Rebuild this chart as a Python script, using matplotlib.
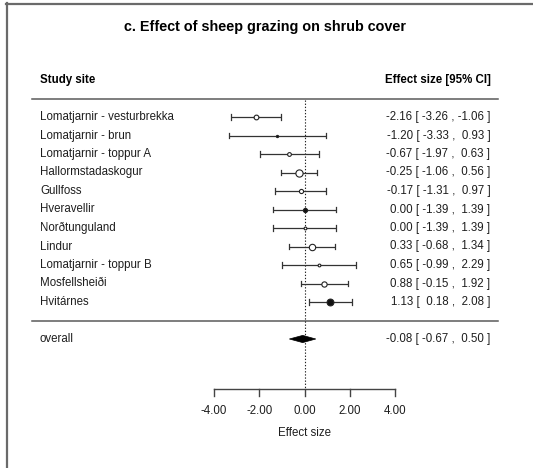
import matplotlib
matplotlib.use("Agg")
import matplotlib.pyplot as plt
from matplotlib.lines import Line2D
from matplotlib.patches import Polygon

# ---------------- data ----------------
sites = ["Lomatjarnir - vesturbrekka", "Lomatjarnir - brun", "Lomatjarnir - toppur A",
         "Hallormstadaskogur", "Gullfoss", "Hveravellir", "Norðtunguland", "Lindur",
         "Lomatjarnir - toppur B", "Mosfellsheiði", "Hvitárnes"]
estimates = [-2.16, -1.20, -0.67, -0.25, -0.17, 0.00, 0.00, 0.33, 0.65, 0.88, 1.13]
ci_lower = [-3.26, -3.33, -1.97, -1.06, -1.31, -1.39, -1.39, -0.68, -0.99, -0.15, 0.18]
ci_upper = [-1.06, 0.93, 0.63, 0.56, 0.97, 1.39, 1.39, 1.34, 2.29, 1.92, 2.08]
overall_label = "overall"
overall_est = -0.08
overall_lo = -0.67
overall_hi = 0.50
xticks = [-4, -2, 0, 2, 4]
title = "c. Effect of sheep grazing on shrub cover"
col_left = "Study site"
col_right = "Effect size [95% CI]"
xlabel = "Effect size"

# ---------------- style ----------------
marker_sizes = [3.4, 1.6, 2.7, 5.2, 3.0, 3.0, 2.0, 4.6, 2.0, 3.8, 4.9]
marker_filled = [False, True, False, False, False, True, False, False, False, False, True]
FONT = "Liberation Sans"
FS = 8.3
TXT = "#1e1e1e"
LINE = "#333333"

W, H = 533, 468
fig = plt.figure(figsize=(W / 100, H / 100), dpi=100)
ax = fig.add_axes([0, 0, 1, 1])
ax.axis("off")

X0, S = 304.5, 22.6        # pixel position of 0 and pixels per unit
Y1, RS = 302.0, 18.5       # pixel position of row 1 and pixels per row


def rx(px):
    return (px - X0) / S


def ry(py):
    return 1 + (Y1 - py) / RS


ax.set_xlim(rx(0), rx(W))
ax.set_ylim(ry(H), ry(0))

n = len(sites)
rows = [n - i for i in range(n)]  # top row = n

cap = 2.6 / RS
for r, name, est, lo, hi, ms, filled in zip(rows, sites, estimates, ci_lower, ci_upper,
                                             marker_sizes, marker_filled):
    ax.plot([lo, hi], [r, r], color=LINE, lw=0.9, solid_capstyle="butt", zorder=2)
    ax.plot([lo, lo], [r - cap, r + cap], color=LINE, lw=0.9, zorder=2)
    ax.plot([hi, hi], [r - cap, r + cap], color=LINE, lw=0.9, zorder=2)
    ax.plot([est], [r], marker="o", ms=ms, mew=0.8, mec="#222222",
            mfc="#111111" if filled else "white", zorder=3)
    ax.text(rx(40), r, name, ha="left", va="center", fontsize=FS, family=FONT, color=TXT)
    ann = f"{est:.2f} [ {lo:5.2f} , {hi:5.2f} ]"
    ax.text(rx(490.5), r, ann, ha="right", va="center", fontsize=FS, family=FONT, color=TXT)

# overall
r_ov = -1
h = 3.6 / RS
ax.add_patch(Polygon([(overall_lo, r_ov), (overall_est, r_ov + h), (overall_hi, r_ov),
                      (overall_est, r_ov - h)], closed=True, fc="black", ec="black",
                     lw=0.5, zorder=3))
ax.text(rx(40), r_ov, overall_label, ha="left", va="center", fontsize=FS, family=FONT, color=TXT)
ax.text(rx(490.5), r_ov, f"{overall_est:.2f} [ {overall_lo:5.2f} , {overall_hi:5.2f} ]",
        ha="right", va="center", fontsize=FS, family=FONT, color=TXT)

# separators
for py in (98.5, 321):
    ax.plot([rx(32), rx(498)], [ry(py), ry(py)], color="#5a5a5a", lw=1.1, zorder=1)

# reference line
ax.plot([0, 0], [ry(100), ry(389)], color="#222222", lw=0.8, ls=(0, (1.2, 1.6)), zorder=1)

# x axis
ax_y = ry(389.3)
tick_len = 6.5 / RS
ax.plot([xticks[0], xticks[-1]], [ax_y, ax_y], color="#444444", lw=1.0, zorder=1)
for t in xticks:
    ax.plot([t, t], [ax_y, ax_y - tick_len], color="#444444", lw=1.0, zorder=1)
    ax.text(t, ry(411.5), f"{t:.2f}", ha="center", va="center", fontsize=FS, family=FONT,
            color=TXT)
ax.text(0, ry(433.5), xlabel, ha="center", va="center", fontsize=FS, family=FONT, color=TXT)

# headers and title
ax.text(rx(40), ry(80), col_left, ha="left", va="center", fontsize=FS, family=FONT,
        fontweight="bold", color="black")
ax.text(rx(490.5), ry(80), col_right, ha="right", va="center", fontsize=FS, family=FONT,
        fontweight="bold", color="black")
ax.text(rx(265), ry(27.5), title, ha="center", va="center", fontsize=10.4, family=FONT,
        fontweight="bold", color="black")

# frame border (left and top)
fig.add_artist(Line2D([6.8 / W, 6.8 / W], [0, 1 - 3 / H], color="#6a6a6a", lw=1.6))
fig.add_artist(Line2D([6.0 / W, 1], [1 - 3.6 / H, 1 - 3.6 / H], color="#6a6a6a", lw=1.6))

fig.savefig("out.png", dpi=100)
